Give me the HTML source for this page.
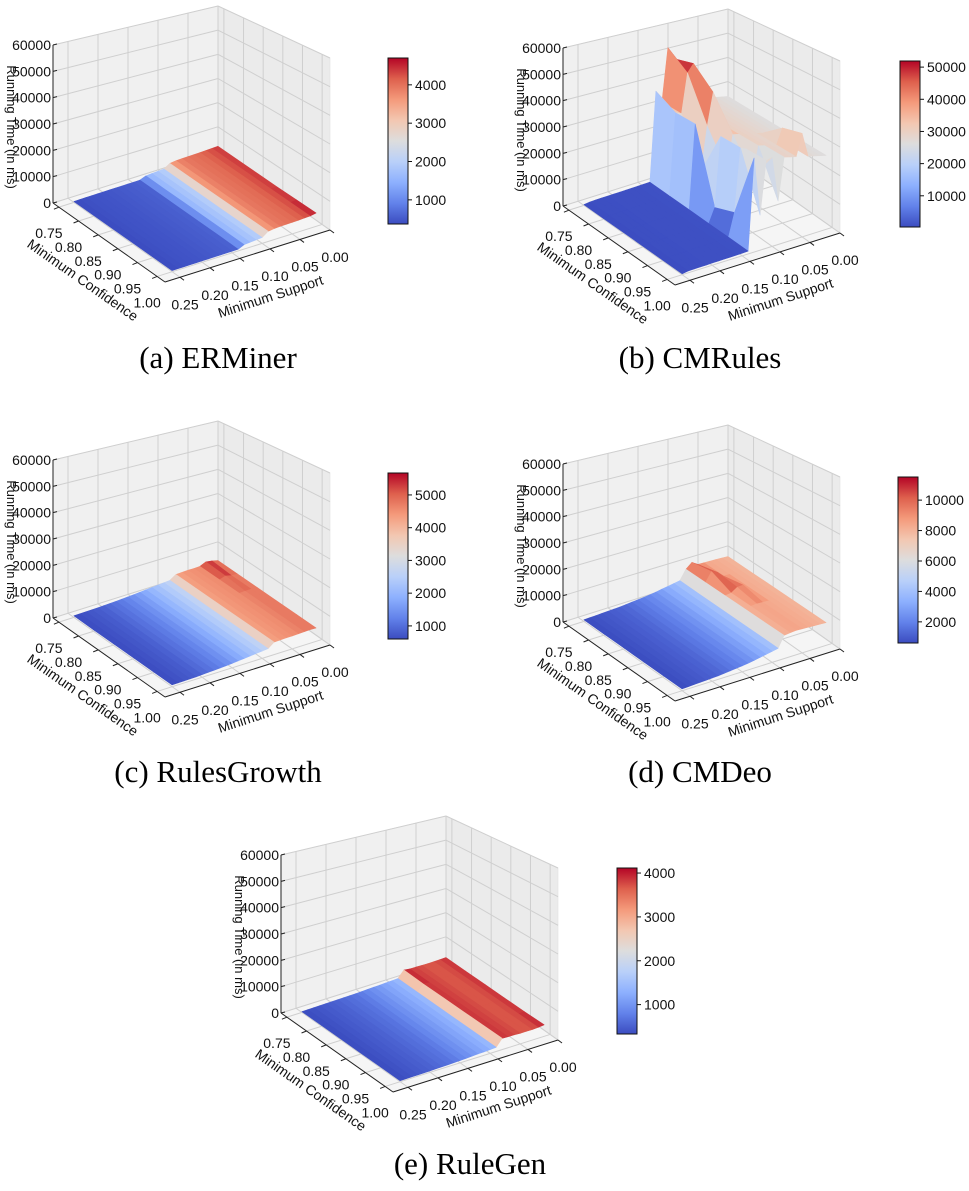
<!DOCTYPE html>
<html><head><meta charset="utf-8"><title>Running time surfaces</title>
<style>
html,body{margin:0;padding:0;background:#fff;}
svg{display:block;}
text{font-family:"Liberation Sans",sans-serif;fill:#111;}
.cap{font-family:"Liberation Serif",serif;font-size:31px;fill:#000;}
</style></head>
<body>
<svg id="fig" width="969" height="1191" viewBox="0 0 969 1191" xmlns="http://www.w3.org/2000/svg">
<rect x="0" y="0" width="969" height="1191" fill="#fff"/>
<defs>
<linearGradient id="cw" x1="0" y1="1" x2="0" y2="0">
<stop offset="0" stop-color="#3b4cc0"/><stop offset="0.125" stop-color="#6282ea"/><stop offset="0.25" stop-color="#8db0fe"/><stop offset="0.375" stop-color="#b9d0f9"/><stop offset="0.5" stop-color="#dddddd"/><stop offset="0.625" stop-color="#f3c7b1"/><stop offset="0.75" stop-color="#f49a7b"/><stop offset="0.875" stop-color="#de604d"/><stop offset="1" stop-color="#b40426"/>
</linearGradient>
</defs>
<text class="cap" x="218" y="368" text-anchor="middle">(a) ERMiner</text>
<text class="cap" x="700" y="368" text-anchor="middle">(b) CMRules</text>
<text class="cap" x="218" y="782" text-anchor="middle">(c) RulesGrowth</text>
<text class="cap" x="700" y="782" text-anchor="middle">(d) CMDeo</text>
<text class="cap" x="470" y="1174" text-anchor="middle">(e) RuleGen</text>
</svg>
<script>
// ---- data ----
const SUPPORTS = [0.25,0.24,0.23,0.22,0.21,0.20,0.19,0.18,0.17,0.16,0.15,0.14,0.13,0.12,0.11,0.10,0.09,0.08,0.07,0.06,0.05,0.04,0.03,0.02,0.01];
const CONFS = [0.75,0.80,0.85,0.90,0.95,1.00];
const Z_TICKS = [0,10000,20000,30000,40000,50000,60000];
const CONF_TICKS = [0.75,0.80,0.85,0.90,0.95,1.00];
const SUPP_TICKS = [0.25,0.20,0.15,0.10,0.05,0.00];

const ERMINER = [370,400,420,440,450,460,480,500,520,540,560,600,1500,1700,1850,2000,3500,3800,3900,4000,4000,4100,4200,4300,4400];
const ERMINER_BUMPS = [[5,24,4700],[4,24,4550]];
const CMRULES = [300,600,650,700,700,750,750,800,800,850,900,950,32000,31000,30000,30500,30000,29500,29000,28500,28000,27500,27000,26500,26000];
const CMRULES_BUMPS = [[0,14,51900],[0,15,47000],[1,14,46000],[1,15,49000],[2,15,42000],[0,16,38000],[3,12,6000],[4,12,9000],[5,13,12000],[3,14,18000],[4,15,20000],[5,16,15000],[2,13,14000],[5,20,36000],[4,20,34000],[0,12,36000]];
const RULESGROWTH = [600,650,700,750,800,900,1000,1100,1200,1350,1500,1700,1900,2100,2300,2500,2700,4300,4400,4500,4500,4600,4700,4800,4700];
const RULESGROWTH_BUMPS = [[0,22,5670],[1,22,5400],[0,23,5300]];
const CMDEO = [610,700,800,900,1000,1100,1200,1400,1600,1800,2000,2300,2600,3000,3400,3800,4200,8000,8300,8500,8400,8300,8200,8100,8000];
const CMDEO_BUMPS = [[1,18,11520],[1,19,10500],[2,20,10000],[0,18,10000],[2,19,9800]];
const RULEGEN = [330,360,400,430,470,500,550,600,650,700,800,900,1000,1100,1200,1300,1450,3900,3800,3800,3700,3700,3700,3800,3900];
const RULEGEN_BUMPS = [[0,17,4115],[5,24,4050]];

const CB_TICKS_A = [1000,2000,3000,4000];
const CB_TICKS_B = [10000,20000,30000,40000,50000];
const CB_TICKS_C = [1000,2000,3000,4000,5000];
const CB_TICKS_D = [2000,4000,6000,8000,10000];
const CB_TICKS_E = [1000,2000,3000,4000];

const PANELS = [
 {key:'erminer', ox:0, oy:0, prof:ERMINER, bumps:ERMINER_BUMPS, cb:CB_TICKS_A, cbx:388},
 {key:'cmrules', ox:510, oy:3, prof:CMRULES, bumps:CMRULES_BUMPS, cb:CB_TICKS_B, cbx:900},
 {key:'rulesgrowth', ox:0, oy:415, prof:RULESGROWTH, bumps:RULESGROWTH_BUMPS, cb:CB_TICKS_C, cbx:388},
 {key:'cmdeo', ox:510, oy:419, prof:CMDEO, bumps:CMDEO_BUMPS, cb:CB_TICKS_D, cbx:898},
 {key:'rulegen', ox:228, oy:810, prof:RULEGEN, bumps:RULEGEN_BUMPS, cb:CB_TICKS_E, cbx:617}
];

const NS = 'http://www.w3.org/2000/svg';
const svg = document.getElementById('fig');
const C0=0.735, C1=1.02, S0=0.275, S1=0.0;

function proj(p, conf, supp, z){
  const c=(conf-C0)/(C1-C0), t=(S0-supp)/(S0-S1);
  const h=158*(1-c)*(1-t)+185*c*(1-t)+172*c*t+145*(1-c)*t;
  return [p.ox+53+c*112+t*165, p.oy+203+c*79-t*52-z/60000*h];
}
const STOPS=[[0,59,76,192],[0.125,98,130,234],[0.25,141,176,254],[0.375,185,208,249],[0.5,221,221,221],[0.625,243,199,177],[0.75,244,154,123],[0.875,222,96,77],[1,180,4,38]];
function cw(v){
  v=Math.max(0,Math.min(1,v));
  for(let i=1;i<STOPS.length;i++){
    if(v<=STOPS[i][0]){const a=STOPS[i-1],b=STOPS[i],f=(v-a[0])/(b[0]-a[0]);
      return 'rgb('+Math.round(a[1]+f*(b[1]-a[1]))+','+Math.round(a[2]+f*(b[2]-a[2]))+','+Math.round(a[3]+f*(b[3]-a[3]))+')';}
  }
  return 'rgb(180,4,38)';
}
function mk(tag, attrs, parent){
  const el=document.createElementNS(NS,tag);
  for(const k in attrs) el.setAttribute(k,attrs[k]);
  (parent||svg).appendChild(el); return el;
}
function pts(arr){return arr.map(q=>q[0].toFixed(1)+','+q[1].toFixed(1)).join(' ');}
function line(p,a,b,stroke,w,g,name){
  const A=proj(p,a[0],a[1],a[2]),B=proj(p,b[0],b[1],b[2]);
  const el=mk('line',{x1:A[0],y1:A[1],x2:B[0],y2:B[1],stroke:stroke,'stroke-width':w},g);
  
  
  return el;
}

PANELS.forEach(p=>{
  const g=mk('g',{});
  
  
  const panes=[
    ['left-wall-pane',[[C0,S0,0],[C0,S1,0],[C0,S1,60000],[C0,S0,60000]],'#f0f0f0'],
    ['right-wall-pane',[[C0,S1,0],[C1,S1,0],[C1,S1,60000],[C0,S1,60000]],'#ebebeb'],
    ['floor-pane',[[C0,S0,0],[C1,S0,0],[C1,S1,0],[C0,S1,0]],'#f5f5f5']];
  panes.forEach(pn=>{
    const el=mk('polygon',{points:pts(pn[1].map(q=>proj(p,q[0],q[1],q[2]))),fill:pn[2],stroke:'#e0e0e0','stroke-width':0.6},g);
    
    
  });
  const gc='#cfcfcf';
  SUPP_TICKS.forEach(s=>{ line(p,[C0,s,0],[C0,s,60000],gc,1,g,'gridline'); line(p,[C0,s,0],[C1,s,0],gc,1,g,'gridline'); });
  CONF_TICKS.forEach(c=>{ line(p,[c,S1,0],[c,S1,60000],gc,1,g,'gridline'); line(p,[c,S0,0],[c,S1,0],gc,1,g,'gridline'); });
  Z_TICKS.forEach(z=>{ line(p,[C0,S0,z],[C0,S1,z],gc,1,g,'gridline'); line(p,[C0,S1,z],[C1,S1,z],gc,1,g,'gridline'); });
  line(p,[C0,S0,0],[C0,S0,60000],'#222',1,g,'z-axis-line');
  line(p,[C0,S0,0],[C1,S0,0],'#222',1,g,'confidence-axis-line');
  line(p,[C1,S0,0],[C1,S1,0],'#222',1,g,'support-axis-line');
  Z_TICKS.forEach(z=>{
    const a=proj(p,C0,S0,z);
    const tk=mk('line',{x1:a[0],y1:a[1],x2:a[0]+4,y2:a[1]-1,stroke:'#222','stroke-width':1},g);
    
    
    const t=mk('text',{x:a[0]-2,y:a[1]+5,'font-size':14,'text-anchor':'end'},g);
    t.textContent=String(z);
    
    
  });
  CONF_TICKS.forEach(c=>{
    const a=proj(p,c,S0,0);
    const tk=mk('line',{x1:a[0],y1:a[1],x2:a[0]-5,y2:a[1]+2,stroke:'#222','stroke-width':1},g);
    
    
    const t=mk('text',{x:a[0]-10,y:a[1]+31,'font-size':14,'text-anchor':'middle'},g);
    t.textContent=c.toFixed(2);
    
    
  });
  SUPP_TICKS.forEach(s=>{
    const a=proj(p,C1,s,0);
    const tk=mk('line',{x1:a[0],y1:a[1],x2:a[0]+4,y2:a[1]+3,stroke:'#222','stroke-width':1},g);
    
    
    const t=mk('text',{x:a[0]+5,y:a[1]+32,'font-size':14,'text-anchor':'middle'},g);
    t.textContent=s.toFixed(2);
    
    
  });
  const lc=mk('text',{x:0,y:0,'font-size':14,'text-anchor':'middle',transform:'translate('+(p.ox+80)+','+(p.oy+284)+') rotate(35)'},g);
  lc.textContent='Minimum Confidence';
  
  
  const ls=mk('text',{x:0,y:0,'font-size':14,'text-anchor':'middle',transform:'translate('+(p.ox+272)+','+(p.oy+301)+') rotate(-18)'},g);
  ls.textContent='Minimum Support';
  
  
  const lz=mk('text',{x:0,y:0,'font-size':13,'text-anchor':'middle',transform:'translate('+(p.ox+7)+','+(p.oy+127)+') rotate(90)'},g);
  lz.textContent='Running Time (in ms)';
  
  

  const Z=CONFS.map(()=>p.prof.slice());
  p.bumps.forEach(b=>{Z[b[0]][b[1]]=b[2];});
  let mn=Infinity,mx=-Infinity;
  Z.forEach(r=>r.forEach(v=>{mn=Math.min(mn,v);mx=Math.max(mx,v);}));
  const quads=[];
  for(let i=0;i<CONFS.length-1;i++) for(let j=0;j<SUPPORTS.length-1;j++){
    const c=((CONFS[i]+CONFS[i+1])/2-C0)/(C1-C0), t=(S0-(SUPPORTS[j]+SUPPORTS[j+1])/2)/(S0-S1);
    quads.push({i:i,j:j,key:c-t});
  }
  quads.sort((a,b)=>a.key-b.key);
  const sg=mk('g',{},g);
  
  
  quads.forEach(q=>{
    const i=q.i,j=q.j;
    const v=[Z[i][j],Z[i][j+1],Z[i+1][j+1],Z[i+1][j]];
    const P=[proj(p,CONFS[i],SUPPORTS[j],v[0]),proj(p,CONFS[i],SUPPORTS[j+1],v[1]),proj(p,CONFS[i+1],SUPPORTS[j+1],v[2]),proj(p,CONFS[i+1],SUPPORTS[j],v[3])];
    const avg=(v[0]+v[1]+v[2]+v[3])/4;
    const col=cw((avg-mn)/(mx-mn));
    const el=mk('polygon',{points:pts(P),fill:col,stroke:col,'stroke-width':0.6,'stroke-linejoin':'round'},sg);
    
    
  });

  const cbY=p.oy+58, cbH=166, cbW=20;
  const cb=mk('rect',{x:p.cbx,y:cbY,width:cbW,height:cbH,fill:'url(#cw)',stroke:'#111','stroke-width':1},g);
  
  
  p.cb.forEach(v=>{
    const y=cbY+cbH-(v-mn)/(mx-mn)*cbH;
    const tk=mk('line',{x1:p.cbx+cbW,y1:y,x2:p.cbx+cbW+4,y2:y,stroke:'#111','stroke-width':1},g);
    
    
    const t=mk('text',{x:p.cbx+cbW+7,y:y+5,'font-size':14},g);
    t.textContent=String(v);
    
    
  });
});
</script>
</body></html>
